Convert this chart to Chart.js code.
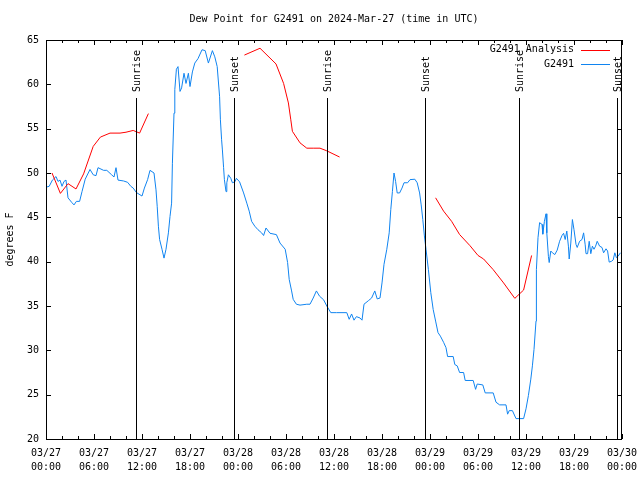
<!DOCTYPE html>
<html>
<head>
<meta charset="utf-8">
<script src="https://cdn.jsdelivr.net/npm/chart.js@4/dist/chart.umd.min.js"></script>
<style>
html,body{margin:0;padding:0;background:#fff;}
canvas{display:block;}
</style>
</head>
<body>
<canvas id="c" width="640" height="480"></canvas>
<script>
// ---- data (x = hours since 2024-03-27 00:00 UTC) ----
const titleText = "Dew Point for G2491 on 2024-Mar-27 (time in UTC)";
const yAxisLabel = "degrees F";
const xTickDates = ["03/27","03/27","03/27","03/27","03/28","03/28","03/28","03/28","03/29","03/29","03/29","03/29","03/30"];
const xTickTimes = ["00:00","06:00","12:00","18:00","00:00","06:00","12:00","18:00","00:00","06:00","12:00","18:00","00:00"];

const seriesNames = ["G2491 Analysis", "G2491"];

const analysisHours = [0.75,1.8,2.75,3.75,4.7,5.9,6.8,8.0,9.25,10.0,10.9,11.7,12.8, 13.5,
  24.8,26.75,28.75,29.7,30.3,30.6,30.8,31.75,32.6,33.4,34.25,35.1,36.7, 37.5,
  48.7,49.7,50.7,51.7,53.0,54.0,54.7,55.9,57.2,58.6,59.7,60.7];
const analysisValues = [50.0,47.7,48.8,48.2,49.9,53.0,54.05,54.5,54.5,54.6,54.8,54.5,56.7, null,
  63.3,64.07,62.3,60.1,57.9,56.0,54.7,53.4,52.8,52.8,52.8,52.5,51.8, null,
  47.2,45.7,44.55,43.06,41.8,40.7,40.3,39.1,37.6,35.86,36.8,40.7];

const obsHours = [0.0,0.4,0.8,1.25,1.5,1.75,2.0,2.25,2.5,2.75,3.2,3.5,3.8,4.2,4.5,4.9,5.5,5.9,6.25,6.5,
  7.2,7.6,8.2,8.5,8.75,9.0,9.7,10.2,10.6,10.9,11.3,12.0,12.3,12.7,13.0,13.5,13.75,13.9,14.05,14.2,
  14.5,14.75,15.0,15.3,15.5,15.7,15.8,16.0,16.1,16.3,16.5,16.75,16.95,17.25,17.5,17.8,18.0,18.3,18.6,19.0,
  19.5,19.9,20.3,20.8,21.1,21.4,21.7,21.8,21.95,22.05,22.2,22.3,22.5,22.6,22.8,23.1,23.3,23.6,23.8,24.2,
  24.7,25.1,25.4,25.7,26.1,26.5,26.95,27.2,27.5,28.0,28.8,29.25,29.9,30.2,30.4,30.7,30.9,31.3,31.75,32.6,
  33.0,33.4,33.8,34.2,34.7,35.1,35.6,36.3,37.6,37.9,38.2,38.5,38.8,39.25,39.5,39.75,40.3,40.7,41.1,41.4,
  41.75,42.0,42.25,42.6,42.9,43.1,43.3,43.5,43.7,43.9,44.2,44.5,44.75,45.2,45.5,46.1,46.4,46.7,46.9,47.1,
  47.3,47.5,47.8,48.1,48.4,48.7,49.0,49.3,49.7,50.0,50.2,50.9,51.1,51.4,51.7,52.2,52.4,53.4,53.7,53.9,
  54.6,54.9,55.9,56.25,56.7,57.5,57.7,57.9,58.3,58.75,59.7,60.0,60.3,60.6,60.8,61.0,61.25,61.3,61.5,61.7,
  62.0,62.1,62.3,62.5,62.6,62.8,62.9,63.1,63.3,63.6,63.9,64.2,64.5,64.7,64.9,65.1,65.3,65.4,65.6,65.8,
  66.0,66.25,66.4,66.7,67.0,67.2,67.4,67.5,67.7,67.9,68.1,68.3,68.5,68.7,68.9,69.2,69.5,69.7,70.0,70.2,
  70.4,70.7,70.9,71.1,71.3,71.5,71.8];
const obsValues = [48.4,48.5,49.2,49.6,49.05,49.2,48.5,49.05,49.2,47.2,46.7,46.4,46.8,46.8,47.9,49.3,50.4,49.8,49.7,50.6,
  50.3,50.3,49.8,49.55,50.6,49.2,49.1,48.95,48.5,48.3,47.8,47.4,48.3,49.25,50.3,50.0,48.1,46.25,44.0,42.5,
  41.4,40.4,41.4,43.25,45.1,46.6,51.1,56.75,59.4,61.7,62.0,59.2,59.6,61.25,60.1,61.25,59.75,61.4,62.4,62.9,
  63.9,63.8,62.4,63.8,63.1,62.0,58.6,56.0,53.75,52.6,50.6,49.25,47.9,48.9,49.8,49.4,48.9,49.0,49.4,49.0,
  47.75,46.6,45.7,44.55,44.0,43.6,43.25,42.95,43.8,43.2,43.05,42.1,41.4,39.9,38.0,36.7,35.75,35.2,35.1,35.2,
  35.2,35.9,36.7,36.1,35.7,35.0,34.25,34.25,34.25,33.5,34.1,33.4,33.8,33.65,33.4,35.2,35.6,35.9,36.7,35.8,
  35.9,37.6,39.7,41.4,43.25,45.9,47.9,50.0,49.05,47.75,47.75,48.3,48.9,48.9,49.25,49.3,48.9,47.75,46.4,44.75,
  42.9,41.4,39.1,36.5,34.6,33.3,32.0,31.6,30.9,30.3,29.3,29.3,28.4,28.25,27.5,27.5,26.6,26.6,25.6,26.2,
  26.1,25.2,25.2,24.15,23.85,23.85,22.8,23.2,23.2,22.3,22.3,23.4,24.9,26.75,28.25,30.1,33.3,39.1,42.7,44.4,
  44.2,43.1,44.55,45.4,43.25,40.6,39.9,41.2,41.0,40.8,41.3,42.3,42.95,43.2,42.5,43.45,41.75,40.3,42.1,44.75,
  43.6,41.95,41.6,42.3,42.5,43.25,41.9,40.9,40.9,42.3,40.9,41.75,41.4,41.75,42.3,41.75,41.6,41.0,41.45,41.2,
  39.95,40.05,40.2,41.0,40.45,40.6,41.0];

const eventHours = [11.29, 23.54, 35.17, 47.42, 59.17, 71.4];
const eventLabels = ["Sunrise","Sunset","Sunrise","Sunset","Sunrise","Sunset"];

const yMin = 20, yMax = 65, yStep = 5;
const xMin = 0, xMax = 72, xStep = 6, xMinorStep = 2;

// ---- build ----
const FONT = "'DejaVu Sans Mono', 'Liberation Mono', monospace";
const RED = "#ff0000";
const BLUE = "rgb(16,132,240)";

const analysisData = analysisHours.map((h, i) => ({x: h, y: analysisValues[i]}));
const obsData = obsHours.map((h, i) => ({x: h, y: obsValues[i]}));

const framePlugin = {
  id: 'frame',
  afterDraw(chart) {
    const ctx = chart.ctx;
    const a = chart.chartArea;
    const xs = chart.scales.x, ys = chart.scales.y;
    ctx.save();
    ctx.strokeStyle = '#000';
    ctx.lineWidth = 1;
    ctx.font = "10px " + FONT;
    ctx.fillStyle = '#000';
    eventHours.forEach((h, i) => {
      const px = Math.round(xs.getPixelForValue(h)) + 0.5;
      ctx.beginPath();
      ctx.moveTo(px, 98);
      ctx.lineTo(px, a.bottom);
      ctx.stroke();
      ctx.save();
      ctx.translate(px + 1, 92);
      ctx.rotate(-Math.PI / 2);
      ctx.textAlign = 'left';
      ctx.textBaseline = 'middle';
      ctx.fillText(eventLabels[i], 0, 0);
      ctx.restore();
    });
    ctx.strokeRect(Math.round(a.left) + 0.5, Math.round(a.top) + 0.5,
                   Math.round(a.right - a.left) - 1, Math.round(a.bottom - a.top));
    ctx.beginPath();
    for (let v = xMin; v <= xMax; v += xMinorStep) {
      const px = Math.round(xs.getPixelForValue(v)) + 0.5;
      const len = (v % xStep === 0) ? 5 : 3;
      ctx.moveTo(px, a.bottom); ctx.lineTo(px, a.bottom - len);
      ctx.moveTo(px, a.top); ctx.lineTo(px, a.top + len);
    }
    for (let v = yMin; v <= yMax; v += yStep) {
      const py = Math.round(ys.getPixelForValue(v)) + 0.5;
      ctx.moveTo(a.left, py); ctx.lineTo(a.left + 5, py);
      ctx.moveTo(a.right, py); ctx.lineTo(a.right - 5, py);
    }
    ctx.stroke();
    ctx.font = "10px " + FONT;
    ctx.textAlign = 'right';
    ctx.textBaseline = 'middle';
    chart.data.datasets.forEach((ds, i) => {
      const yy = 49.5 + i * 14.5;
      ctx.fillStyle = '#000';
      ctx.fillText(ds.label, 574, yy);
      ctx.strokeStyle = ds.borderColor;
      ctx.beginPath();
      ctx.moveTo(581, Math.round(yy) + 0.5);
      ctx.lineTo(610, Math.round(yy) + 0.5);
      ctx.stroke();
    });
    ctx.restore();
  }
};

new Chart(document.getElementById('c'), {
  type: 'line',
  data: {
    datasets: [
      { label: seriesNames[0], data: analysisData, borderColor: RED, backgroundColor: RED,
        borderWidth: 1, pointRadius: 0, tension: 0, spanGaps: false, fill: false },
      { label: seriesNames[1], data: obsData, borderColor: BLUE, backgroundColor: BLUE,
        borderWidth: 1, pointRadius: 0, tension: 0, spanGaps: false, fill: false }
    ]
  },
  options: {
    responsive: false,
    animation: false,
    devicePixelRatio: 1,
    layout: { padding: { left: 0, right: 18, top: 0, bottom: 0 } },
    plugins: {
      legend: { display: false },
      tooltip: { enabled: false },
      title: {
        display: true, text: titleText, color: '#000', fullSize: false,
        font: { family: FONT, size: 10, weight: 'normal', lineHeight: 1.2 },
        padding: { top: 13, bottom: 15 }
      }
    },
    scales: {
      x: {
        type: 'linear', min: xMin, max: xMax,
        grid: { display: false, drawTicks: false },
        border: { display: false },
        ticks: {
          stepSize: xStep, autoSkip: false, maxRotation: 0, minRotation: 0,
          color: '#000', padding: 7,
          font: { family: FONT, size: 10, lineHeight: 1.4 },
          callback: (v) => { const i = Math.round(v / xStep); return [xTickDates[i], xTickTimes[i]]; }
        },
        afterFit: (s) => { s.height = 41; s.paddingLeft = 0; s.paddingRight = 0; }
      },
      y: {
        type: 'linear', min: yMin, max: yMax,
        grid: { display: false, drawTicks: false },
        border: { display: false },
        title: { display: true, text: yAxisLabel, color: '#000',
                 font: { family: FONT, size: 10, lineHeight: 1.2 }, padding: { top: 4, bottom: 0 } },
        ticks: { stepSize: yStep, color: '#000', padding: 7,
                 font: { family: FONT, size: 10 } },
        afterFit: (s) => { s.width = 46; s.paddingTop = 0; s.paddingBottom = 0; }
      }
    }
  },
  plugins: [framePlugin]
});
</script>
</body>
</html>
